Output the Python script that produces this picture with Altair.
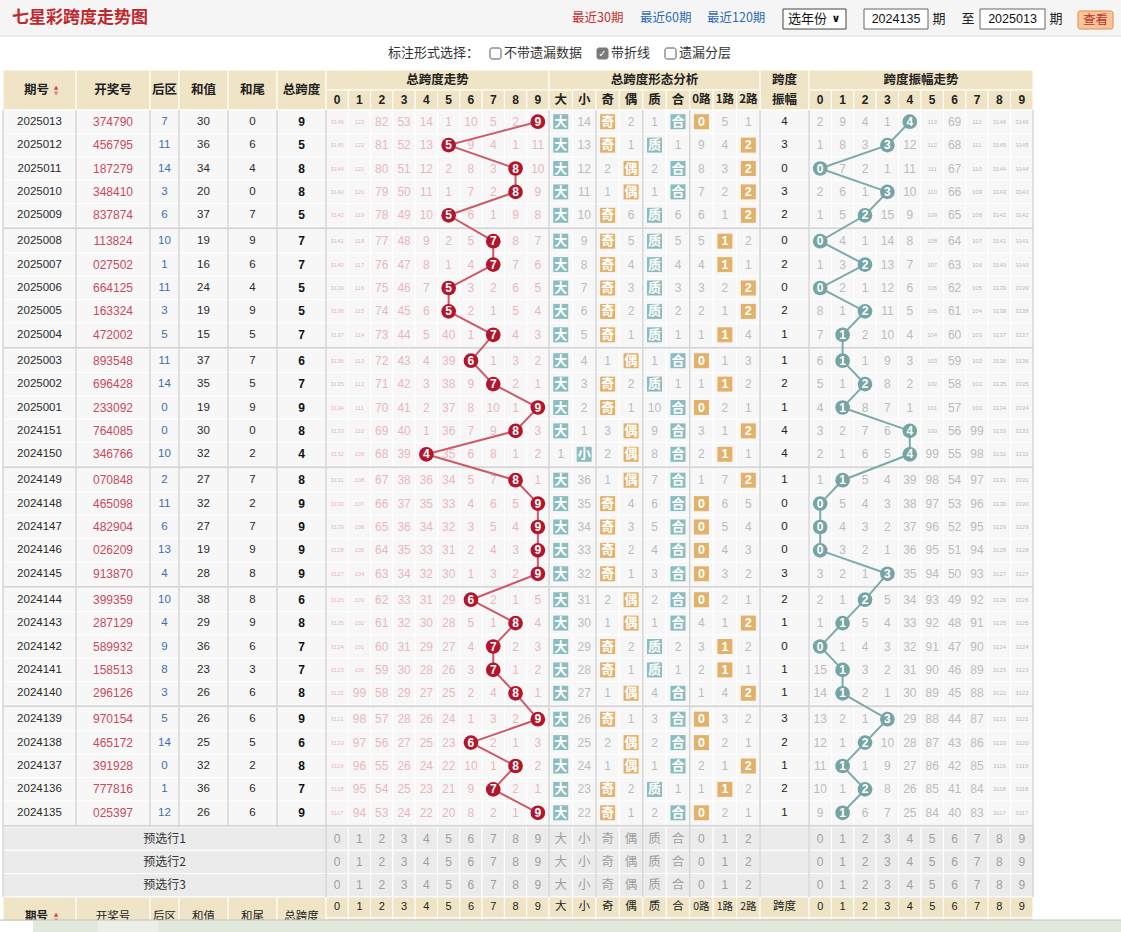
import altair as alt
import pandas as pd

W, H = 1121, 932

# ------------------------------------------------------------------ data
issues = ["2025013", "2025012", "2025011", "2025010", "2025009",
          "2025008", "2025007", "2025006", "2025005", "2025004",
          "2025003", "2025002", "2025001", "2024151", "2024150",
          "2024149", "2024148", "2024147", "2024146", "2024145",
          "2024144", "2024143", "2024142", "2024141", "2024140",
          "2024139", "2024138", "2024137", "2024136", "2024135"]
draws = ["374790", "456795", "187279", "348410", "837874",
         "113824", "027502", "664125", "163324", "472002",
         "893548", "696428", "233092", "764085", "346766",
         "070848", "465098", "482904", "026209", "913870",
         "399359", "287129", "589932", "158513", "296126",
         "970154", "465172", "391928", "777816", "025397"]
back_zone = [7, 11, 14, 3, 6, 10, 1, 11, 3, 5, 11, 14, 0, 0, 10,
             2, 11, 6, 13, 4, 10, 4, 9, 8, 3, 5, 14, 0, 1, 12]
sum_vals = [30, 36, 34, 20, 37, 19, 16, 24, 19, 15, 37, 35, 19, 30, 32,
            27, 32, 27, 19, 28, 38, 29, 36, 23, 26, 26, 25, 32, 36, 26]
sum_tails = [0, 6, 4, 0, 7, 9, 6, 4, 9, 5, 7, 5, 9, 0, 2,
             7, 2, 7, 9, 8, 8, 9, 6, 3, 6, 6, 5, 2, 6, 6]
spans = [9, 5, 8, 8, 5, 7, 7, 5, 5, 7, 6, 7, 9, 8, 4,
         8, 9, 9, 9, 9, 6, 8, 7, 7, 8, 9, 6, 8, 7, 9]
span_amp = [4, 3, 0, 3, 2, 0, 2, 0, 2, 1, 1, 2, 1, 4, 4,
            1, 0, 0, 0, 3, 2, 1, 0, 1, 1, 3, 2, 1, 2, 1]

# omission counts for span 0..9 (0 = drawn this period)
span_miss = [
    [3146, 123, 82, 53, 14, 1, 10, 5, 2, 0],
    [3145, 122, 81, 52, 13, 0, 9, 4, 1, 11],
    [3144, 121, 80, 51, 12, 2, 8, 3, 0, 10],
    [3143, 120, 79, 50, 11, 1, 7, 2, 0, 9],
    [3142, 119, 78, 49, 10, 0, 6, 1, 9, 8],
    [3141, 118, 77, 48, 9, 2, 5, 0, 8, 7],
    [3140, 117, 76, 47, 8, 1, 4, 0, 7, 6],
    [3139, 116, 75, 46, 7, 0, 3, 2, 6, 5],
    [3138, 115, 74, 45, 6, 0, 2, 1, 5, 4],
    [3137, 114, 73, 44, 5, 40, 1, 0, 4, 3],
    [3136, 113, 72, 43, 4, 39, 0, 1, 3, 2],
    [3135, 112, 71, 42, 3, 38, 9, 0, 2, 1],
    [3134, 111, 70, 41, 2, 37, 8, 10, 1, 0],
    [3133, 110, 69, 40, 1, 36, 7, 9, 0, 3],
    [3132, 109, 68, 39, 0, 35, 6, 8, 1, 2],
    [3131, 108, 67, 38, 36, 34, 5, 7, 0, 1],
    [3130, 107, 66, 37, 35, 33, 4, 6, 5, 0],
    [3129, 106, 65, 36, 34, 32, 3, 5, 4, 0],
    [3128, 105, 64, 35, 33, 31, 2, 4, 3, 0],
    [3127, 104, 63, 34, 32, 30, 1, 3, 2, 0],
    [3126, 103, 62, 33, 31, 29, 0, 2, 1, 5],
    [3125, 102, 61, 32, 30, 28, 5, 1, 0, 4],
    [3124, 101, 60, 31, 29, 27, 4, 0, 2, 3],
    [3123, 100, 59, 30, 28, 26, 3, 0, 1, 2],
    [3122, 99, 58, 29, 27, 25, 2, 4, 0, 1],
    [3121, 98, 57, 28, 26, 24, 1, 3, 2, 0],
    [3120, 97, 56, 27, 25, 23, 0, 2, 1, 3],
    [3119, 96, 55, 26, 24, 22, 10, 1, 0, 2],
    [3118, 95, 54, 25, 23, 21, 9, 0, 2, 1],
    [3117, 94, 53, 24, 22, 20, 8, 2, 1, 0],
]

# omission counts for 大 小 奇 偶 质 合 0路 1路 2路 (0 = drawn)
shape_miss = [
    [0, 14, 0, 2, 1, 0, 0, 5, 1],
    [0, 13, 0, 1, 0, 1, 9, 4, 0],
    [0, 12, 2, 0, 2, 0, 8, 3, 0],
    [0, 11, 1, 0, 1, 0, 7, 2, 0],
    [0, 10, 0, 6, 0, 6, 6, 1, 0],
    [0, 9, 0, 5, 0, 5, 5, 0, 2],
    [0, 8, 0, 4, 0, 4, 4, 0, 1],
    [0, 7, 0, 3, 0, 3, 3, 2, 0],
    [0, 6, 0, 2, 0, 2, 2, 1, 0],
    [0, 5, 0, 1, 0, 1, 1, 0, 4],
    [0, 4, 1, 0, 1, 0, 0, 1, 3],
    [0, 3, 0, 2, 0, 1, 1, 0, 2],
    [0, 2, 0, 1, 10, 0, 0, 2, 1],
    [0, 1, 3, 0, 9, 0, 3, 1, 0],
    [1, 0, 2, 0, 8, 0, 2, 0, 1],
    [0, 36, 1, 0, 7, 0, 1, 7, 0],
    [0, 35, 0, 4, 6, 0, 0, 6, 5],
    [0, 34, 0, 3, 5, 0, 0, 5, 4],
    [0, 33, 0, 2, 4, 0, 0, 4, 3],
    [0, 32, 0, 1, 3, 0, 0, 3, 2],
    [0, 31, 2, 0, 2, 0, 0, 2, 1],
    [0, 30, 1, 0, 1, 0, 4, 1, 0],
    [0, 29, 0, 2, 0, 2, 3, 0, 2],
    [0, 28, 0, 1, 0, 1, 2, 0, 1],
    [0, 27, 1, 0, 4, 0, 1, 4, 0],
    [0, 26, 0, 1, 3, 0, 0, 3, 2],
    [0, 25, 2, 0, 2, 0, 0, 2, 1],
    [0, 24, 1, 0, 1, 0, 2, 1, 0],
    [0, 23, 0, 2, 0, 1, 1, 0, 2],
    [0, 22, 0, 1, 2, 0, 0, 2, 1],
]

# omission counts for amplitude 0..9 (0 = drawn)
amp_miss = [
    [2, 9, 4, 1, 0, 113, 69, 112, 3146, 3146],
    [1, 8, 3, 0, 12, 112, 68, 111, 3145, 3145],
    [0, 7, 2, 1, 11, 111, 67, 110, 3144, 3144],
    [2, 6, 1, 0, 10, 110, 66, 109, 3143, 3143],
    [1, 5, 0, 15, 9, 109, 65, 108, 3142, 3142],
    [0, 4, 1, 14, 8, 108, 64, 107, 3141, 3141],
    [1, 3, 0, 13, 7, 107, 63, 106, 3140, 3140],
    [0, 2, 1, 12, 6, 106, 62, 105, 3139, 3139],
    [8, 1, 0, 11, 5, 105, 61, 104, 3138, 3138],
    [7, 0, 2, 10, 4, 104, 60, 103, 3137, 3137],
    [6, 0, 1, 9, 3, 103, 59, 102, 3136, 3136],
    [5, 1, 0, 8, 2, 102, 58, 101, 3135, 3135],
    [4, 0, 8, 7, 1, 101, 57, 100, 3134, 3134],
    [3, 2, 7, 6, 0, 100, 56, 99, 3133, 3133],
    [2, 1, 6, 5, 0, 99, 55, 98, 3132, 3132],
    [1, 0, 5, 4, 39, 98, 54, 97, 3131, 3131],
    [0, 5, 4, 3, 38, 97, 53, 96, 3130, 3130],
    [0, 4, 3, 2, 37, 96, 52, 95, 3129, 3129],
    [0, 3, 2, 1, 36, 95, 51, 94, 3128, 3128],
    [3, 2, 1, 0, 35, 94, 50, 93, 3127, 3127],
    [2, 1, 0, 5, 34, 93, 49, 92, 3126, 3126],
    [1, 0, 5, 4, 33, 92, 48, 91, 3125, 3125],
    [0, 1, 4, 3, 32, 91, 47, 90, 3124, 3124],
    [15, 0, 3, 2, 31, 90, 46, 89, 3123, 3123],
    [14, 0, 2, 1, 30, 89, 45, 88, 3122, 3122],
    [13, 2, 1, 0, 29, 88, 44, 87, 3121, 3121],
    [12, 1, 0, 10, 28, 87, 43, 86, 3120, 3120],
    [11, 0, 1, 9, 27, 86, 42, 85, 3119, 3119],
    [10, 1, 0, 8, 26, 85, 41, 84, 3118, 3118],
    [9, 0, 6, 7, 25, 84, 40, 83, 3117, 3117],
]

title_text = "七星彩跨度走势图"
period_links = ["最近30期", "最近60期", "最近120期"]
year_select = "选年份"
start_issue, end_issue = "2024135", "2025013"
option_label = "标注形式选择："
option_items = ["不带遗漏数据", "带折线", "遗漏分层"]
option_checked = [False, True, False]
left_headers = ["期号", "开奖号", "后区", "和值", "和尾", "总跨度"]
group_headers = ["总跨度走势", "总跨度形态分析", "跨度振幅走势"]
digit_labels = [str(d) for d in range(10)]
shape_headers = ["大", "小", "奇", "偶", "质", "合", "0路", "1路", "2路"]
shape_badges = ["大", "小", "奇", "偶", "质", "合", "0", "1", "2"]
preselect_rows = ["预选行1", "预选行2", "预选行3"]

# ------------------------------------------------------------------ layout / style
LEFT_EDGES = [3, 76, 150, 179, 228, 277, 326]
TR_X0, TR_W = 326.0, 22.3
SH_X0, SH_W = 549.0, 23.45
AV_X0, AV_X1 = 760.0, 809.0
AT_X0, AT_W = 809.0, 22.4
X_END = 1033.0
HY0, HY1, HY2 = 70.0, 90.0, 110.0
ROW_H, GAP = 23.4, 2.5

CN = "Noto Sans CJK SC"
NUM = "Liberation Sans"
HDR = "#f0e4c6"
CELL = "#f7f7f7"
PRE = "#ebebeb"
SEP = "#d6d6d6"
PINK = "#e9b7bb"
GRAY = "#bcbcbc"
RED_C, RED_L = "#b3162c", "#cc5a68"
TEAL_C, TEAL_L = "#76a4a5", "#7eaaaa"
BADGE_T, BADGE_O = "#8bbcbf", "#e2b16a"
BADGE_TEAL_COLS = {0, 1, 4, 5}


def row_top(i):
    return HY2 + (i // 5) * (5 * ROW_H + GAP) + (i % 5) * ROW_H


def rcy(i):
    return row_top(i) + ROW_H / 2


def tr_cx(j):
    return TR_X0 + TR_W * (j + 0.5)


def sh_cx(j):
    return SH_X0 + SH_W * (j + 0.5)


def at_cx(j):
    return AT_X0 + AT_W * (j + 0.5)


left_cx = [(LEFT_EDGES[k] + LEFT_EDGES[k + 1]) / 2 for k in range(6)]
av_cx = (AV_X0 + AV_X1) / 2
N = len(issues)
PY0 = row_top(N - 1) + ROW_H + GAP
PRE_H = 23.3
FY0 = PY0 + 3 * PRE_H

# column boundaries of all body columns
col_spans = [(LEFT_EDGES[k], LEFT_EDGES[k + 1]) for k in range(6)]
col_spans += [(TR_X0 + TR_W * j, TR_X0 + TR_W * (j + 1)) for j in range(10)]
col_spans += [(SH_X0 + SH_W * j, SH_X0 + SH_W * (j + 1)) for j in range(9)]
col_spans += [(AV_X0, AV_X1)]
col_spans += [(AT_X0 + AT_W * j, AT_X0 + AT_W * (j + 1)) for j in range(10)]

XS = alt.Scale(domain=[0, W], nice=False, zero=False)
YS = alt.Scale(domain=[0, H], nice=False, zero=False, reverse=True)

rects_plain, rects_round, rules, texts = [], [], [], []


def R(x, x2, y, y2, fill, stroke="#ffffff", sw=0.0, rounded=False):
    (rects_round if rounded else rects_plain).append(
        dict(x=x, x2=x2, y=y, y2=y2, fill=fill, stroke=stroke, sw=sw))


def L(x, x2, y, y2, color, sw):
    rules.append(dict(x=x, x2=x2, y=y, y2=y2, c=color, sw=sw))


def T(x, y, s, color="#333333", size=12.0, font=NUM, weight="normal", align="center"):
    texts.append(dict(x=x, y=y, t=str(s), c=color, s=size, f=font, w=weight, a=align))


# ------------------------------------------------------------------ top bar
R(0, W, 0, 36, "#f5f5f5")
L(0, W, 36, 36, "#dcdcdc", 1)
T(12, 18, title_text, "#c0282e", 17, CN, "bold", "left")
for k, (lab, xx) in enumerate(zip(period_links, [572, 640, 707])):
    T(xx, 18, lab, "#c62f2f" if k == 0 else "#2f6bb5", 12.5, CN, "normal", "left")
R(783, 846, 9, 29, "#ffffff", "#444444", 1)
T(788, 19, year_select, "#111111", 13, CN, "normal", "left")
T(836, 19, "∨", "#111111", 11, "DejaVu Sans", "bold", "center")
R(864, 928, 9, 29, "#ffffff", "#666666", 1)
T(896, 19, start_issue, "#111111", 12.5)
T(939, 19, "期", "#222222", 13, CN)
T(968, 19, "至", "#222222", 13, CN)
R(980, 1045, 9, 29, "#ffffff", "#666666", 1)
T(1012.5, 19, end_issue, "#111111", 12.5)
T(1056, 19, "期", "#222222", 13, CN)
R(1078, 1113, 11, 29, "#f9c69a", "#de8c4a", 1, rounded=True)
T(1095.5, 20, "查看", "#c0302c", 12.5, CN)

# option line
T(388, 53, option_label, "#333333", 13, CN, "normal", "left")
for lab, xb, chk in zip(option_items, [490, 597, 665], option_checked):
    if chk:
        R(xb, xb + 11, 48, 59, "#7a7a7a", "#7a7a7a", 1, rounded=True)
        T(xb + 5.5, 53.5, "✓", "#ffffff", 10, "DejaVu Sans", "bold")
    else:
        R(xb, xb + 11, 48, 59, "#ffffff", "#555555", 1, rounded=True)
    T(xb + 14, 53, lab, "#333333", 13, CN, "normal", "left")

# ------------------------------------------------------------------ header
for k in range(6):
    R(LEFT_EDGES[k], LEFT_EDGES[k + 1], HY0, HY2, HDR, "#ffffff", 1)
R(TR_X0, SH_X0, HY0, HY1, HDR, "#ffffff", 1)
R(SH_X0, AV_X0, HY0, HY1, HDR, "#ffffff", 1)
R(AV_X0, AV_X1, HY0, HY2, HDR, "#ffffff", 1)
R(AT_X0, X_END, HY0, HY1, HDR, "#ffffff", 1)
for j in range(10):
    R(TR_X0 + TR_W * j, TR_X0 + TR_W * (j + 1), HY1, HY2, HDR, "#ffffff", 1)
    R(AT_X0 + AT_W * j, AT_X0 + AT_W * (j + 1), HY1, HY2, HDR, "#ffffff", 1)
for j in range(9):
    R(SH_X0 + SH_W * j, SH_X0 + SH_W * (j + 1), HY1, HY2, HDR, "#ffffff", 1)

hc = (HY0 + HY2) / 2
for k, lab in enumerate(left_headers):
    xx = left_cx[k] - 3 if k == 0 else left_cx[k]
    T(xx, hc, lab, "#222222", 12.5, CN, "bold")
T(56, hc - 3, "▲", "#d94040", 5.5, "DejaVu Sans")
T(56, hc + 3, "▼", "#e08080", 5.5, "DejaVu Sans")
T((TR_X0 + SH_X0) / 2, (HY0 + HY1) / 2, group_headers[0], "#222222", 12.5, CN, "bold")
T((SH_X0 + AV_X0) / 2, (HY0 + HY1) / 2, group_headers[1], "#222222", 12.5, CN, "bold")
T((AT_X0 + X_END) / 2, (HY0 + HY1) / 2, group_headers[2], "#222222", 12.5, CN, "bold")
T(av_cx, (HY0 + HY1) / 2, "跨度", "#222222", 12.5, CN, "bold")
T(av_cx, (HY1 + HY2) / 2, "振幅", "#222222", 12.5, CN, "bold")
for j in range(10):
    T(tr_cx(j), (HY1 + HY2) / 2, digit_labels[j], "#222222", 12, NUM, "bold")
    T(at_cx(j), (HY1 + HY2) / 2, digit_labels[j], "#222222", 12, NUM, "bold")
for j in range(9):
    T(sh_cx(j), (HY1 + HY2) / 2, shape_headers[j], "#222222",
      12.5 if j < 6 else 11.5, CN, "bold")

# ------------------------------------------------------------------ body
span_line, amp_line = [], []
for i in range(N):
    y0 = row_top(i)
    y1 = y0 + ROW_H
    cy = rcy(i)
    for (a, b) in col_spans:
        R(a, b, y0, y1, CELL, "#ffffff", 1)
    T(left_cx[0], cy, issues[i], "#2a2a2a", 11.5)
    T(left_cx[1], cy, draws[i], "#c94a5c", 12)
    T(left_cx[2], cy, back_zone[i], "#3a6fb0", 11.5)
    T(left_cx[3], cy, sum_vals[i], "#2a2a2a", 11.5)
    T(left_cx[4], cy, sum_tails[i], "#2a2a2a", 11.5)
    T(left_cx[5], cy, spans[i], "#111111", 12, NUM, "bold")
    T(av_cx, cy, span_amp[i], "#222222", 11.5)
    for j, v in enumerate(span_miss[i]):
        if v == 0:
            span_line.append(dict(x=tr_cx(j), y=cy, i=i, t=str(j)))
        else:
            T(tr_cx(j), cy, v, PINK, 6 if v >= 100 else 12)
    for j, v in enumerate(amp_miss[i]):
        if v == 0:
            amp_line.append(dict(x=at_cx(j), y=cy, i=i, t=str(j)))
        else:
            T(at_cx(j), cy, v, GRAY, 6 if v >= 100 else 12)
    for j, v in enumerate(shape_miss[i]):
        if v != 0:
            T(sh_cx(j), cy, v, GRAY, 12)

# separators
for g in range(1, N // 5):
    yy = row_top(5 * g) - GAP / 2
    L(LEFT_EDGES[0], X_END, yy, yy, SEP, 2)
L(LEFT_EDGES[0], X_END, PY0 - GAP / 2, PY0 - GAP / 2, SEP, 2)
for xx in LEFT_EDGES[1:-1]:
    L(xx, xx, HY2, PY0, SEP, 1.5)
for xx in [LEFT_EDGES[0], LEFT_EDGES[-1], SH_X0, SH_X0 + 2 * SH_W, SH_X0 + 4 * SH_W,
           SH_X0 + 6 * SH_W, AV_X0, AV_X1, X_END]:
    L(xx, xx, HY2, FY0, SEP, 1.5)

# pre-selection rows
for r, lab in enumerate(preselect_rows):
    y0 = PY0 + r * PRE_H
    y1 = y0 + PRE_H
    cy = (y0 + y1) / 2
    R(LEFT_EDGES[0], TR_X0, y0, y1, PRE, "#ffffff", 1)
    T((LEFT_EDGES[0] + TR_X0) / 2, cy, lab, "#333333", 12, CN)
    for (a, b) in col_spans[6:]:
        R(a, b, y0, y1, PRE, "#ffffff", 1)
    for j in range(10):
        T(tr_cx(j), cy, digit_labels[j], "#a0a0a0", 12)
        T(at_cx(j), cy, digit_labels[j], "#a0a0a0", 12)
    for j in range(9):
        T(sh_cx(j), cy, shape_badges[j], "#a0a0a0", 12.5 if j < 6 else 12,
          CN if j < 6 else NUM)

# footer header
for k in range(6):
    R(LEFT_EDGES[k], LEFT_EDGES[k + 1], FY0, FY0 + 44, HDR, "#ffffff", 1)
for (a, b) in col_spans[6:]:
    R(a, b, FY0, FY0 + 21, HDR, "#ffffff", 1)
    R(a, b, FY0 + 21, FY0 + 44, HDR, "#ffffff", 1)
fy = FY0 + 10.5
for j in range(10):
    T(tr_cx(j), fy, digit_labels[j], "#222222", 11, NUM)
    T(at_cx(j), fy, digit_labels[j], "#222222", 11, NUM)
for j in range(9):
    T(sh_cx(j), fy, shape_headers[j], "#222222", 11.5 if j < 6 else 10.5, CN)
T(av_cx, fy, "跨度", "#222222", 11.5, CN)
fl = FY0 + 20
for k, lab in enumerate(left_headers):
    xx = left_cx[k] - 3 if k == 0 else left_cx[k]
    T(xx, fl, lab, "#222222", 11.5, CN, "bold" if k == 0 else "normal")
T(56, fl - 3, "▲", "#d94040", 5.5, "DejaVu Sans")
T(56, fl + 3, "▼", "#e08080", 5.5, "DejaVu Sans")

# badges
badges = []
for i in range(N):
    cy = rcy(i)
    for j, v in enumerate(shape_miss[i]):
        if v == 0:
            cx = sh_cx(j)
            badges.append(dict(x=cx - 7.5, x2=cx + 7.5, y=cy - 7.5, y2=cy + 7.5,
                               fill=BADGE_T if j in BADGE_TEAL_COLS else BADGE_O,
                               stroke="#ffffff", sw=0.0))
            T(cx, cy, shape_badges[j], "#ffffff", 13 if j < 6 else 12.5,
              CN if j < 6 else NUM, "bold")

# ------------------------------------------------------------------ layers


def rect_layer(rows, corner=0):
    df = pd.DataFrame(rows)
    return alt.Chart(df).mark_rect(cornerRadius=corner).encode(
        x=alt.X("x:Q", scale=XS, axis=None), x2="x2:Q",
        y=alt.Y("y:Q", scale=YS, axis=None), y2="y2:Q",
        color=alt.Color("fill:N", scale=None),
        stroke=alt.Stroke("stroke:N", scale=None),
        strokeWidth=alt.StrokeWidth("sw:Q", scale=None),
    )


def text_layers(rows):
    df = pd.DataFrame(rows)
    out = []
    for (f, w, a), sub in df.groupby(["f", "w", "a"]):
        out.append(alt.Chart(sub.reset_index(drop=True)).mark_text(
            font=f, fontWeight=w, align=a, baseline="middle").encode(
            x=alt.X("x:Q", scale=XS, axis=None),
            y=alt.Y("y:Q", scale=YS, axis=None),
            text="t:N",
            color=alt.Color("c:N", scale=None),
            size=alt.Size("s:Q", scale=None),
        ))
    return out


layers = [rect_layer(rects_plain), rect_layer(rects_round, 2)]
rdf = pd.DataFrame(rules)
layers.append(alt.Chart(rdf).mark_rule().encode(
    x=alt.X("x:Q", scale=XS, axis=None), x2="x2:Q",
    y=alt.Y("y:Q", scale=YS, axis=None), y2="y2:Q",
    color=alt.Color("c:N", scale=None),
    strokeWidth=alt.StrokeWidth("sw:Q", scale=None)))
layers.append(rect_layer(badges))
layers += text_layers(texts)

sdf = pd.DataFrame(span_line)
adf = pd.DataFrame(amp_line)
for df, lc, cc in [(sdf, RED_L, RED_C), (adf, TEAL_L, TEAL_C)]:
    layers.append(alt.Chart(df).mark_line(color=lc, strokeWidth=2).encode(
        x=alt.X("x:Q", scale=XS, axis=None),
        y=alt.Y("y:Q", scale=YS, axis=None),
        order="i:Q"))
    layers.append(alt.Chart(df).mark_circle(color=cc, size=215, opacity=1).encode(
        x=alt.X("x:Q", scale=XS, axis=None),
        y=alt.Y("y:Q", scale=YS, axis=None)))
    layers.append(alt.Chart(df).mark_text(font=NUM, fontWeight="bold", fontSize=12,
                                           color="#ffffff", baseline="middle",
                                           align="center").encode(
        x=alt.X("x:Q", scale=XS, axis=None),
        y=alt.Y("y:Q", scale=YS, axis=None),
        text="t:N"))

# bottom scrollbar strip
strip = [dict(x=0, x2=W, y=920, y2=H, fill="#e1e8dc", stroke="#ffffff", sw=0.0),
         dict(x=0, x2=33, y=921, y2=H, fill="#ffffff", stroke="#ffffff", sw=0.0),
         dict(x=98, x2=158, y=921, y2=H, fill="#eceee8", stroke="#ffffff", sw=0.0)]
layers.append(rect_layer(strip))
layers.append(alt.Chart(pd.DataFrame([dict(x=0, x2=W, y=920, y2=920)])).mark_rule(
    color="#c4c4c4", strokeWidth=1).encode(
    x=alt.X("x:Q", scale=XS, axis=None), x2="x2:Q",
    y=alt.Y("y:Q", scale=YS, axis=None), y2="y2:Q"))

chart = alt.layer(*layers).properties(
    width=W, height=H, padding=0,
    autosize=alt.AutoSizeParams(type="none"),
    background="#ffffff",
).configure_view(stroke=None)

chart.save("out.html", embed_options={"renderer": "svg", "actions": False})
